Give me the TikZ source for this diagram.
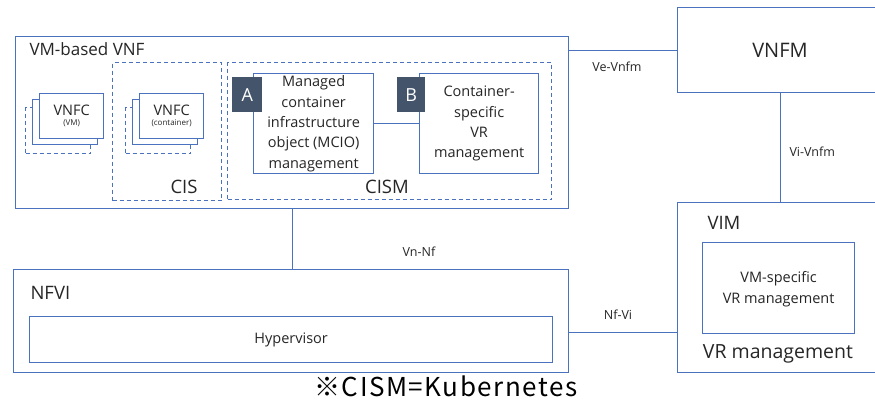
\documentclass[tikz,border=0pt]{standalone}
\usepackage{fontspec}
\setmainfont{Open Sans}
\newfontfamily\jpfont[LetterSpace=6]{Noto Sans CJK JP}
\usetikzlibrary{calc}
\definecolor{edge}{HTML}{4A72BE}
\definecolor{tagfill}{HTML}{44546A}
\definecolor{ink}{HTML}{262626}
\tikzset{
  box/.style={draw=edge, line width=1.3pt, fill=white, inner sep=0pt, anchor=north west, text=ink},
  dbox/.style={draw=edge, line width=1.3pt, dash pattern=on 4pt off 3pt, inner sep=0pt, anchor=north west},
  tag/.style={fill=tagfill, text=white, inner sep=0pt, anchor=north west, minimum width=30pt, minimum height=35pt, font=\fontsize{18}{20}\selectfont},
  link/.style={draw=edge, line width=1.3pt},
  lbl/.style={text=ink, font=\fontsize{12.5}{14}\selectfont},
  big/.style={text=ink, font=\fontsize{18.5}{20}\selectfont},
  mid/.style={text=ink, align=center, font=\fontsize{14.5}{20.3}\selectfont},
}
\begin{document}
\begin{tikzpicture}[x=1pt, y=-1pt]
\useasboundingbox (0,0) rectangle (875,400);

% --- VM-based VNF ---
\node[box, minimum width=553pt, minimum height=172pt] (vnf) at (15,36) {};
\node[text=ink, font=\fontsize{17}{20}\selectfont, anchor=base west] (vnft) at (26,55) {VM-based VNF};

% VNFC (VM) stack
\node[dbox, minimum width=65pt, minimum height=46pt] (vmc3) at (25,107) {};
\node[box, minimum width=65pt, minimum height=45pt] (vmc2) at (31.5,99) {};
\node[box, minimum width=64pt, minimum height=45pt, align=center] (vmc1) at (39,93)
  {{\fontsize{14.5}{15}\selectfont VNFC}\\[-2pt]{\fontsize{8}{9}\selectfont (VM)}};

% CIS
\node[dbox, minimum width=109pt, minimum height=138pt] (cis) at (112,62) {};
\node[big, anchor=base] (cist) at (184,193) {CIS};
\node[dbox, minimum width=65pt, minimum height=46pt] (ctc3) at (125,107) {};
\node[box, minimum width=65pt, minimum height=45pt] (ctc2) at (131.5,99) {};
\node[box, minimum width=64pt, minimum height=45pt, align=center] (ctc1) at (139,93)
  {{\fontsize{14.5}{15}\selectfont VNFC}\\[-2pt]{\fontsize{8}{9}\selectfont (container)}};

% CISM
\node[dbox, minimum width=324pt, minimum height=137pt] (cism) at (227,62) {};
\node[big, anchor=base] (cismt) at (387,193) {CISM};
\node[box, mid, minimum width=120pt, minimum height=100pt] (mcio) at (253,73)
  {Managed\\container\\infrastructure\\object (MCIO)\\management};
\node[box, mid, minimum width=119pt, minimum height=100pt] (cvr) at (419,73)
  {Container-\\specific\\VR\\management};
\node[tag] (taga) at (232,77) {A};
\node[tag, minimum width=28pt] (tagb) at (397,77) {B};
\draw[link] (mcio.east) -- (cvr.west);

% --- VNFM ---
\node[box, minimum width=205pt, minimum height=85pt] (vnfm) at (677,7) {};
\node[text=ink, font=\fontsize{20}{22}\selectfont] (vnfmt) at (780,50) {VNFM};

% --- VIM ---
\node[box, minimum width=205pt, minimum height=170pt] (vim) at (677,202) {};
\node[big, anchor=base west] (vimt) at (704,229) {VIM};
\node[box, minimum width=152pt, minimum height=91pt] (vmvr) at (702,242) {};
\node[text=ink, align=center, font=\fontsize{14.5}{21}\selectfont] (vmvrt) at ([yshift=-1pt]vmvr.center) {VM-specific\\VR management};
\node[text=ink, font=\fontsize{19.5}{20}\selectfont, anchor=base] (vrt) at (778,358) {VR management};

% --- NFVI ---
\node[box, minimum width=555pt, minimum height=103pt] (nfvi) at (13,269) {};
\node[big, anchor=base west] (nfvit) at (27,299) {NFVI};
\node[box, minimum width=523pt, minimum height=46pt] (hyp) at (29,316) {};
\node[text=ink, font=\fontsize{14.5}{16}\selectfont] (hypt) at (hyp.center) {Hypervisor};

% --- reference points ---
\draw[link] (vnfm.west) -- (vnfm.west -| vnf.east);
\node[lbl] (vevnfm) at (617,67) {Ve-Vnfm};
\draw[link] (vnfm.south) -- (vim.north);
\node[lbl, anchor=west] (vivnfm) at (786,152) {Vi-Vnfm};
\draw[link] (vnf.south) -- (vnf.south |- nfvi.north);
\node[lbl] (vnnf) at (419,252) {Vn-Nf};
\draw[link] ([yshift=-11.5pt]nfvi.east) -- ([yshift=-11.5pt]nfvi.east -| vim.west);
\node[lbl] (nfvi2) at (618,315) {Nf-Vi};

% footnote
\node[text=black, font=\jpfont\fontsize{26}{28}\selectfont] (note) at (446,386) {※CISM=Kubernetes};
\end{tikzpicture}
\end{document}
